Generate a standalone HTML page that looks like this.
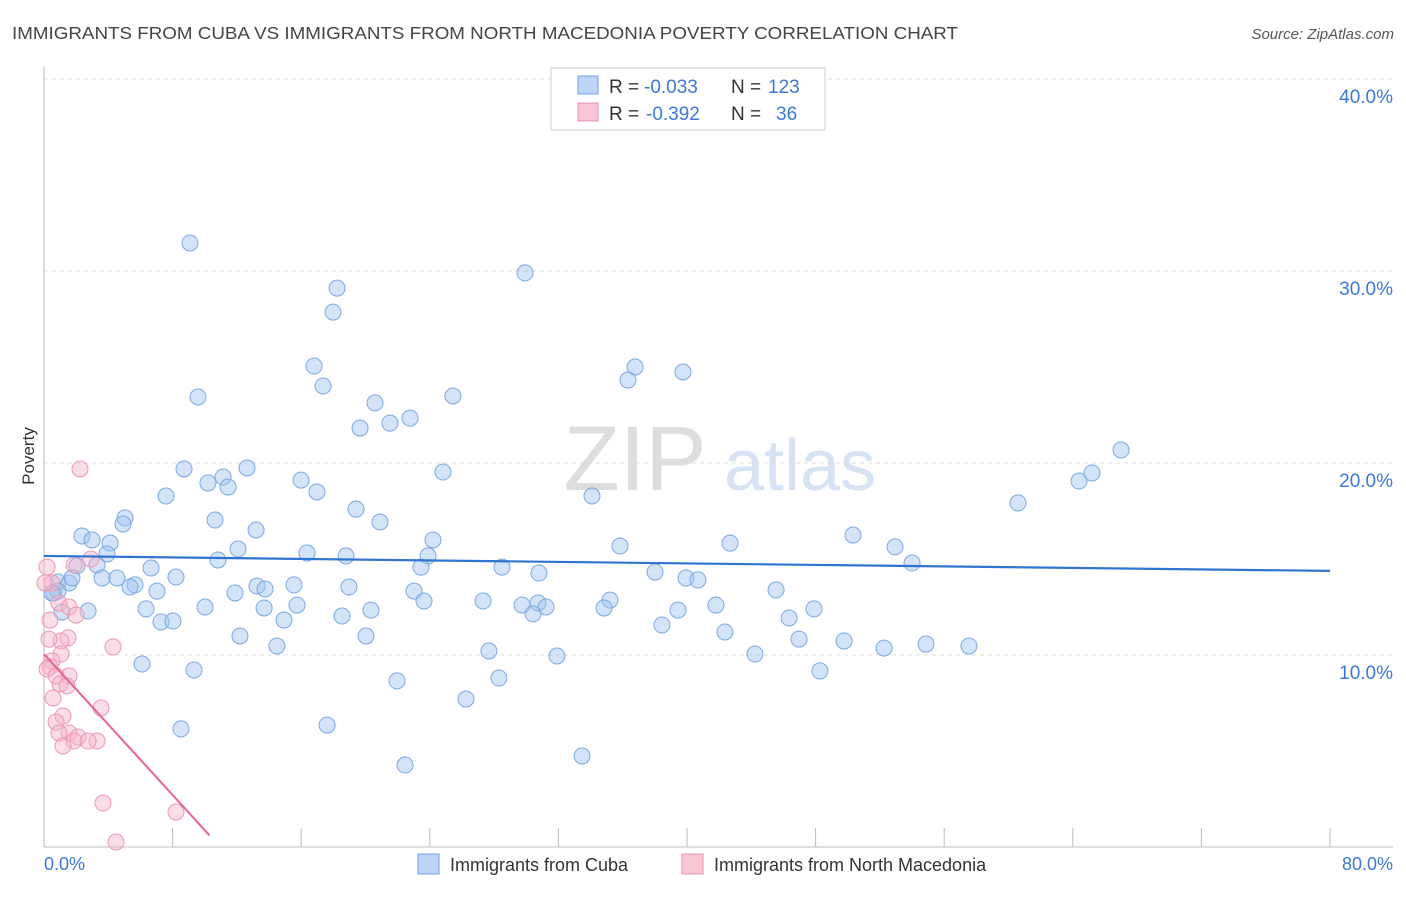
<!DOCTYPE html>
<html><head><meta charset="utf-8"><style>
body{margin:0;background:#fff;font-family:"Liberation Sans",sans-serif;}
svg text{font-family:"Liberation Sans",sans-serif;}
</style></head><body>
<svg id="chart" width="1406" height="892">
<text x="12" y="39" font-size="17.5" fill="#444" textLength="946" lengthAdjust="spacingAndGlyphs">IMMIGRANTS FROM CUBA VS IMMIGRANTS FROM NORTH MACEDONIA POVERTY CORRELATION CHART</text>
<text x="1394" y="39" font-size="15" fill="#555" font-style="italic" text-anchor="end">Source: ZipAtlas.com</text>
<g>
<text x="635" y="490" font-size="92" fill="#ddd" font-family="Liberation Serif" text-anchor="middle">ZIP</text>
<text x="800" y="490" font-size="72" fill="#d5e3f5" text-anchor="middle">atlas</text>
</g>
<g id="grid"></g>
<g id="axes"></g>
<g id="marks"></g>
<text transform="translate(34,456) rotate(-90)" font-size="17" fill="#333" text-anchor="middle">Poverty</text>
<g>
<rect x="551" y="68" width="274" height="62" fill="#fff" stroke="#ccc"/>
<rect x="578" y="76" width="20" height="18" fill="#bcd4f5" stroke="#6fa0e0"/>
<text x="609" y="93" font-size="19" fill="#333">R =</text>
<text x="644" y="93" font-size="19" fill="#3b78d8">-0.033</text>
<text x="731" y="93" font-size="19" fill="#333">N =</text>
<text x="768" y="93" font-size="19" fill="#3b78d8">123</text>
<rect x="578" y="103" width="20" height="18" fill="#f8c6d4" stroke="#e890a8"/>
<text x="609" y="120" font-size="19" fill="#333">R =</text>
<text x="646" y="120" font-size="19" fill="#3b78d8">-0.392</text>
<text x="731" y="120" font-size="19" fill="#333">N =</text>
<text x="776" y="120" font-size="19" fill="#3b78d8">36</text>
</g>
<g>
<rect x="418" y="854" width="21" height="20" fill="#bcd4f5" stroke="#6fa0e0"/>
<text x="450" y="871" font-size="18" fill="#333">Immigrants from Cuba</text>
<rect x="682" y="854" width="21" height="20" fill="#f8c6d4" stroke="#e890a8"/>
<text x="714" y="871" font-size="18" fill="#333">Immigrants from North Macedonia</text>
</g>
</svg>
<script>
const yTicks=[10,20,30,40];
const yTickLabels=["10.0%","20.0%","30.0%","40.0%"];
const xTickCount=10;
const xMax=80;
const cubaX=[9.08,29.92,18.23,17.98,16.80,17.36,36.77,36.33,39.75,9.58,25.44,20.59,22.77,21.52,19.66,67.0,8.71,12.63,11.14,10.20,11.45,24.82,15.99,16.98,7.59,65.19,64.39,60.59,34.09,19.41,5.04,4.91,10.64,13.19,20.90,2.36,2.99,4.11,3.92,50.33,24.20,35.83,42.68,12.07,52.94,16.36,18.79,10.82,23.89,2.05,3.30,6.66,23.45,28.49,54.0,30.79,38.01,39.94,40.68,0.87,1.56,1.74,3.61,4.54,8.21,5.66,5.35,7.03,13.25,13.75,15.55,18.97,11.88,23.02,0.62,45.54,35.21,27.31,23.64,6.35,10.02,13.69,15.74,29.74,30.73,31.23,34.84,41.80,20.34,30.42,1.12,2.74,39.44,47.90,46.35,7.28,8.02,14.93,18.54,38.44,42.36,12.19,20.03,46.97,49.77,52.26,54.87,57.54,14.49,27.68,31.91,44.23,6.10,9.33,48.27,28.30,21.96,26.25,17.61,8.52,33.47,22.46,0.87,0.50];
const cubaY=[31.46,29.90,29.11,27.86,25.05,24.01,25.0,24.32,24.74,23.44,23.49,23.13,22.34,22.08,21.82,20.68,19.69,19.74,19.27,18.96,18.75,19.53,19.11,18.49,18.28,19.48,19.06,17.92,18.28,17.60,17.14,16.82,17.03,16.51,16.93,16.20,15.99,15.83,15.26,16.25,15.99,15.68,15.83,15.52,15.63,15.31,15.16,14.95,15.16,14.64,14.69,14.53,14.58,14.58,14.79,14.27,14.32,14.01,13.91,13.80,13.75,14.01,14.01,14.01,14.06,13.65,13.54,13.33,13.59,13.44,13.65,13.54,13.23,13.33,13.23,13.39,12.86,12.81,12.81,12.40,12.50,12.45,12.60,12.60,12.71,12.50,12.45,12.60,12.34,12.14,12.24,12.29,12.34,12.40,11.93,11.72,11.77,11.82,12.03,11.56,11.20,10.99,10.99,10.83,10.73,10.36,10.57,10.47,10.47,10.21,9.95,10.05,9.53,9.22,9.17,8.80,8.65,7.71,6.35,6.15,4.74,4.27,13.33,13.23];
const macX=[2.24,2.92,0.19,1.87,0.50,0.06,0.93,1.56,1.99,0.37,1.49,1.06,0.31,4.29,1.06,0.50,0.37,0.19,0.75,1.56,1.00,1.43,0.56,3.55,1.18,0.75,1.56,0.93,3.30,2.12,1.87,2.74,1.18,3.67,8.21,4.48];
const macY=[19.69,15.0,14.58,14.69,13.75,13.75,12.71,12.50,12.08,11.82,10.89,10.73,10.83,10.42,10.05,9.69,9.38,9.27,8.91,8.91,8.49,8.39,7.76,7.24,6.82,6.51,5.94,5.94,5.52,5.73,5.52,5.52,5.26,2.29,1.82,0.26];
const cubaTrend=[15.16,14.38];
const macTrend=[10.05,0.6];
const macTrendXEnd=10.3;

const NS="http://www.w3.org/2000/svg";
const X0=44,X1=1330,Y0=847,PX_PER=19.2;
function sx(v){return X0+(X1-X0)*v/xMax;}
function sy(v){return Y0-v*PX_PER;}
function mk(tag,attrs,parent){const e=document.createElementNS(NS,tag);for(const k in attrs)e.setAttribute(k,attrs[k]);parent.appendChild(e);return e;}
const grid=document.getElementById('grid'),axes=document.getElementById('axes'),marks=document.getElementById('marks');
yTicks.forEach((t,i)=>{
  const l=mk('line',{x1:44,x2:1393,y1:sy(t),y2:sy(t),stroke:'#ddd','stroke-dasharray':'4,4'},grid);
  
  
  const tx=mk('text',{x:1393,y:sy(t)+24,'font-size':19,fill:'#3b78d8','text-anchor':'end'},axes);
  tx.textContent=yTickLabels[i];
  
  
});
let ax=mk('line',{x1:44,x2:44,y1:67,y2:847,stroke:'#bbb'},axes);


ax=mk('line',{x1:44,x2:1393,y1:847,y2:847,stroke:'#bbb'},axes);


for(let i=0;i<=xTickCount;i++){
  const x=sx(xMax*i/xTickCount);
  const t=mk('line',{x1:x,x2:x,y1:828,y2:847,stroke:'#bbb'},axes);
  
  
}
let xl=mk('text',{x:44,y:870,'font-size':18,fill:'#3b78d8'},axes);xl.textContent='0.0%';


xl=mk('text',{x:1393,y:870,'font-size':18,fill:'#3b78d8','text-anchor':'end'},axes);xl.textContent='80.0%';


cubaX.forEach((v,i)=>{
  const c=mk('circle',{cx:sx(v),cy:sy(cubaY[i]),r:8,fill:'rgba(160,196,240,0.45)',stroke:'#7aa8e2','stroke-width':1},marks);
  
  
});
macX.forEach((v,i)=>{
  const c=mk('circle',{cx:sx(v),cy:sy(macY[i]),r:8,fill:'rgba(246,180,200,0.45)',stroke:'#ec98b2','stroke-width':1},marks);
  
  
});
let tl=mk('line',{x1:sx(0),y1:sy(cubaTrend[0]),x2:sx(xMax),y2:sy(cubaTrend[1]),stroke:'#2f74d0','stroke-width':2.2},marks);


tl=mk('line',{x1:sx(0),y1:sy(macTrend[0]),x2:sx(macTrendXEnd),y2:sy(macTrend[1]),stroke:'#e8648e','stroke-width':2},marks);


</script>
</body></html>
